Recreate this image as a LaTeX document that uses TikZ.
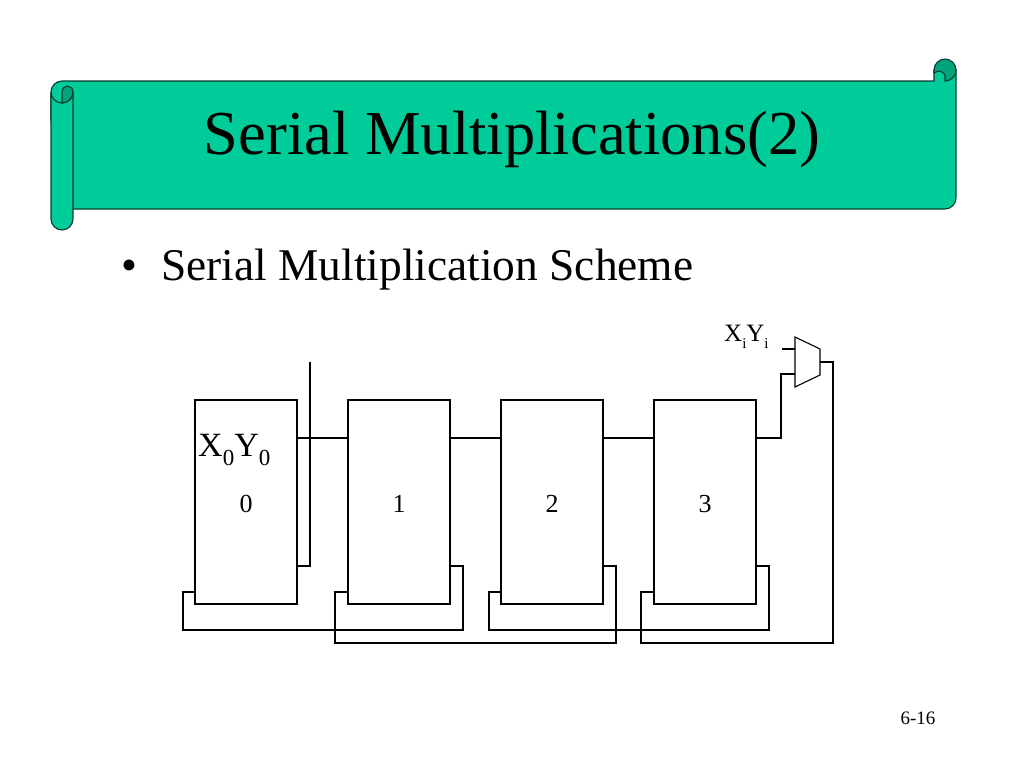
\documentclass[tikz,border=0pt]{standalone}
\usepackage{fontspec}
\setmainfont{Liberation Serif}
\usetikzlibrary{positioning}
\definecolor{scrollfill}{HTML}{00CC99}
\definecolor{scrolldark}{HTML}{00A37A}
\definecolor{scrollline}{HTML}{0B3B30}
\newcommand{\lowsub}[3]{\raisebox{-#2pt}{\fontsize{#1}{#1}\selectfont #3}}
\tikzset{
    scrollpart/.style={draw=scrollline,fill=scrollfill,line width=1.1pt},
    curlpart/.style={draw=scrollline,fill=scrolldark,line width=1.1pt},
    regbox/.style={draw,line width=1.1pt,outer sep=0pt,minimum width=102pt,minimum height=204pt,inner sep=0pt},
    wire/.style={line width=1.1pt},
    reglabel/.style={font=\fontsize{26}{28}\selectfont,inner sep=0pt}
}
\begin{document}
\begin{tikzpicture}[x=1pt,y=-1pt]
    \useasboundingbox (0,0) rectangle (1024,768);

    % scroll banner
    \draw[scrollpart] (73,209) -- (945,209) arc[start angle=90,end angle=0,radius=11]
        -- (956,70) -- (934,70) -- (934,81) -- (62,81) arc[start angle=270,end angle=180,radius=11]
        -- (51,120) -- (73,209) -- cycle;
    \draw[curlpart] (934,70) arc[start angle=180,end angle=360,radius=11]
        arc[start angle=0,end angle=90,radius=11] -- (945,75)
        .. controls (943,71) and (938,70) .. (934,73) -- cycle;
    \draw[scrollpart] (51,92) arc[start angle=180,end angle=0,radius=11]
        -- (73,219) arc[start angle=0,end angle=180,radius=11] -- cycle;
    \draw[curlpart] (62,103) -- (62,92) arc[start angle=180,end angle=360,x radius=5.5,y radius=6]
        arc[start angle=0,end angle=90,radius=11] -- cycle;

    \node[inner sep=0pt,font=\fontsize{62.5}{70}\selectfont] (title) at (512,139) {Serial Multiplications(2)};
    \node[inner sep=0pt,anchor=base west,font=\fontsize{45.4}{50}\selectfont] (bullet) at (121,280) {•};
    \node[inner sep=0pt,anchor=base west,font=\fontsize{45.4}{50}\selectfont] (heading) at (161,280) {Serial Multiplication Scheme};

    % registers
    \node[regbox] (box0) at (246,502) {};
    \node[regbox,right=51pt of box0] (box1) {};
    \node[regbox,right=51pt of box1] (box2) {};
    \node[regbox,right=51pt of box2] (box3) {};

    \foreach \i in {0,1,2,3}
        \node[reglabel,yshift=-2pt] (label\i) at (box\i) {\i};

    \node[inner sep=0pt,anchor=base west,font=\fontsize{34}{38}\selectfont] (xzero) at (198,456) {X\lowsub{23}{9}{0}Y\lowsub{23}{9}{0}};
    \node[inner sep=0pt,anchor=base west,font=\fontsize{25}{30}\selectfont] (xi) at (724,341) {X\lowsub{15}{7}{i}Y\lowsub{15}{7}{i}};
    \node[inner sep=0pt,font=\fontsize{19}{22}\selectfont] (page) at (918,718) {6-16};

    % multiplexer
    \coordinate (muxa) at (795,337);
    \coordinate (muxb) at (820,349);
    \coordinate (muxc) at (820,375);
    \coordinate (muxd) at (795,387);
    \draw[wire] (muxa) -- (muxb) -- (muxc) -- (muxd) -- cycle;
    \coordinate (muxin) at (795,349);
    \coordinate (muxsel) at (795,374);
    \coordinate (muxout) at (820,362);

    % wires between the registers
    \foreach \i/\j in {0/1,1/2,2/3}
        \draw[wire] ([yshift=-38pt]box\i.north east) -- ([yshift=-38pt]box\j.north west);

    \coordinate (xitop) at (782,349);
    \coordinate (free) at (310,362);
    \draw[wire] (xitop) -- (muxin);
    \draw[wire] ([yshift=-38pt]box3.north east) -| (781,374) -- (muxsel);
    \draw[wire] ([yshift=38pt]box0.south east) -| (free);

    % feedback wires
    \draw[wire] ([yshift=38pt]box1.south east) -- (463,566) -- (463,630) -- (183,630) -- (183,592) -- ([yshift=12pt]box0.south west);
    \draw[wire] ([yshift=38pt]box2.south east) -- (616,566) -- (616,643) -- (335,643) -- (335,592) -- ([yshift=12pt]box1.south west);
    \draw[wire] ([yshift=38pt]box3.south east) -- (769,566) -- (769,630) -- (489,630) -- (489,592) -- ([yshift=12pt]box2.south west);
    \draw[wire] (muxout) -- (833,362) -- (833,643) -- (641,643) -- (641,592) -- ([yshift=12pt]box3.south west);
\end{tikzpicture}
\end{document}
